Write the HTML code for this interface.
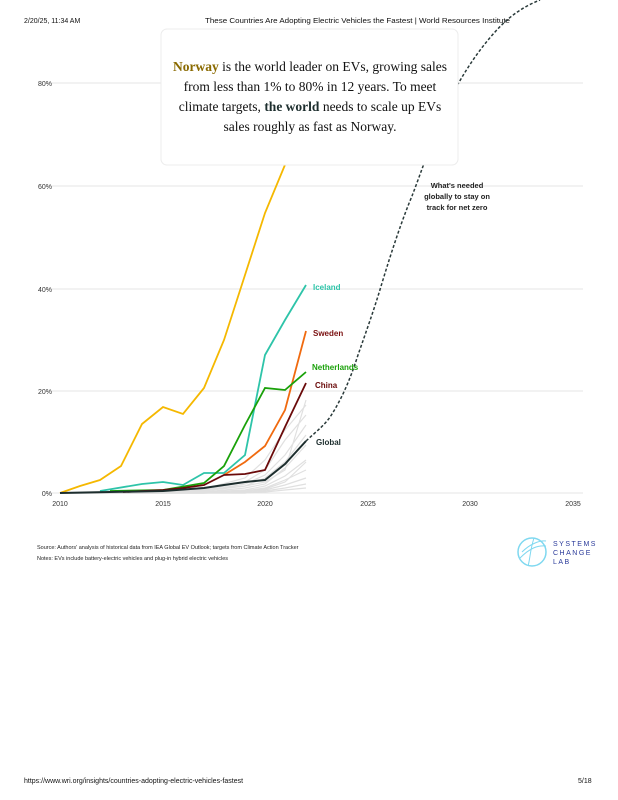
<!DOCTYPE html>
<html><head><meta charset="utf-8"><style>
body{margin:0;background:#fff;width:618px;height:800px;overflow:hidden;font-family:"Liberation Sans",sans-serif}
svg{position:absolute;left:0;top:0}
</style></head><body>
<svg width="618" height="800" viewBox="0 0 618 800">
<g font-family="Liberation Sans" font-size="7" fill="#111">
<text x="24" y="23">2/20/25, 11:34 AM</text>
<text x="205" y="23" textLength="305" lengthAdjust="spacingAndGlyphs">These Countries Are Adopting Electric Vehicles the Fastest | World Resources Institute</text>
<text x="24" y="783">https://www.wri.org/insights/countries-adopting-electric-vehicles-fastest</text>
<text x="578" y="783">5/18</text>
</g>
<g stroke="#e6e6e6" stroke-width="1">
<line x1="52" y1="83" x2="583" y2="83"/><line x1="52" y1="186" x2="583" y2="186"/>
<line x1="52" y1="289" x2="583" y2="289"/><line x1="52" y1="391" x2="583" y2="391"/>
<line x1="52" y1="493" x2="583" y2="493"/>
</g>
<g font-size="7" fill="#333" text-anchor="end">
<text x="52" y="86">80%</text><text x="52" y="189">60%</text><text x="52" y="292">40%</text><text x="52" y="394">20%</text><text x="52" y="496">0%</text>
</g>
<g font-size="7" fill="#333" text-anchor="middle">
<text x="60" y="506">2010</text><text x="163" y="506">2015</text><text x="265" y="506">2020</text><text x="368" y="506">2025</text><text x="470" y="506">2030</text><text x="573" y="506">2035</text>
</g>
<g fill="none" stroke="#e0e0e0" stroke-width="1.2">
<polyline points="60,493 163,492 204,490 245,486 265,482 285,470 306,400"/>
<polyline points="60,493 163,492 204,489 245,478 265,460 285,430 306,405"/>
<polyline points="60,493 163,493 204,491 245,484 265,475 285,455 306,425"/>
<polyline points="60,493 163,493 204,492 245,488 265,484 285,468 306,445"/>
<polyline points="60,493 163,493 204,492 245,490 265,486 285,476 306,460"/>
<polyline points="60,493 163,493 204,493 245,491 265,488 285,480 306,470"/>
<polyline points="60,493 163,493 204,493 245,492 265,490 285,485 306,478"/>
<polyline points="60,493 163,493 204,493 245,493 265,491 285,488 306,484"/>
<polyline points="60,493 163,493 204,490 245,482 265,470 285,440 306,415"/>
<polyline points="60,493 163,493 204,493 245,492 265,489 285,482 306,462"/>
<polyline points="60,493 163,493 245,493 265,492 285,490 306,488"/>
<polyline points="60,493 163,493 204,491 245,486 265,478 285,462 306,435"/>
</g>
<polyline fill="none" stroke="#f5b800" stroke-width="1.8" points="60,493 80,486 100,480 121,466 142,424 163,407 183,414 204,388 224,340 245,275 265,213 287,160"/>
<polyline fill="none" stroke="#2ec4a9" stroke-width="1.8" points="100,491 142,484 163,482 183,485 204,473 224,473 245,455 265,355 285,320 306,285"/>
<polyline fill="none" stroke="#f06a0f" stroke-width="1.8" points="224,475 245,462 265,446 285,410 306,331"/>
<polyline fill="none" stroke="#1aa10a" stroke-width="1.8" points="110,491 163,490 204,483 224,466 245,425 265,388 285,390 306,372"/>
<polyline fill="none" stroke="#6a0a0a" stroke-width="1.8" points="123,492 163,490 183,488 204,485 224,475 245,474 265,470 285,427 306,383"/>
<polyline fill="none" stroke="#1d2e2e" stroke-width="2" points="60,493 163,491 204,488 224,485 245,482 265,480 285,464 306,441"/>
<path d="M306,441 C318,430 326,424 332,414 C342,398 350,380 358,355 C366,332 374,310 382,283 C392,250 402,220 412,196 C422,170 432,140 442,115 C456,85 474,55 495,32 C510,15 525,6 540,0" fill="none" stroke="#2a3a3a" stroke-width="1.5" stroke-dasharray="3,2"/>
<g font-size="8" font-weight="bold">
<text x="313" y="290" fill="#2ec4a9">Iceland</text>
<text x="313" y="336" fill="#7a1010">Sweden</text>
<text x="312" y="370" fill="#1aa10a">Netherlands</text>
<text x="315" y="388" fill="#6a0a0a">China</text>
<text x="316" y="445" fill="#1d2e2e">Global</text>
</g>
<g font-size="7.5" font-weight="bold" fill="#222" text-anchor="middle">
<text x="457" y="188">What's needed</text><text x="457" y="199">globally to stay on</text><text x="457" y="210">track for net zero</text>
</g>
<rect x="161" y="29" width="297" height="136" rx="6" fill="#fff" stroke="#ececec"/>
<g font-family="Liberation Serif" font-size="13.5" fill="#111" text-anchor="middle">
<text x="310" y="71"><tspan fill="#8a6a00" font-weight="bold">Norway</tspan> is the world leader on EVs, growing sales</text>
<text x="310" y="91">from less than 1% to 80% in 12 years. To meet</text>
<text x="310" y="111">climate targets, <tspan font-weight="bold" fill="#1d2e2e">the world</tspan> needs to scale up EVs</text>
<text x="310" y="131">sales roughly as fast as Norway.</text>
</g>
<g font-size="5.5" fill="#222">
<text x="37" y="549">Source: Authors' analysis of historical data from IEA Global EV Outlook; targets from Climate Action Tracker</text>
<text x="37" y="560">Notes: EVs include battery-electric vehicles and plug-in hybrid electric vehicles</text>
</g>
<circle cx="532" cy="552" r="14" fill="none" stroke="#7fd8f0" stroke-width="1.5"/>
<path d="M520,558 C530,548 538,545 546,546 M522,552 C530,544 540,540 546,541 M534,538 C530,550 530,560 528,566" fill="none" stroke="#7fd8f0" stroke-width="1"/>
<g font-size="7" fill="#2a3a9a" letter-spacing="1.5">
<text x="553" y="546">SYSTEMS</text><text x="553" y="555">CHANGE</text><text x="553" y="564">LAB</text>
</g>
</svg>
</body></html>
